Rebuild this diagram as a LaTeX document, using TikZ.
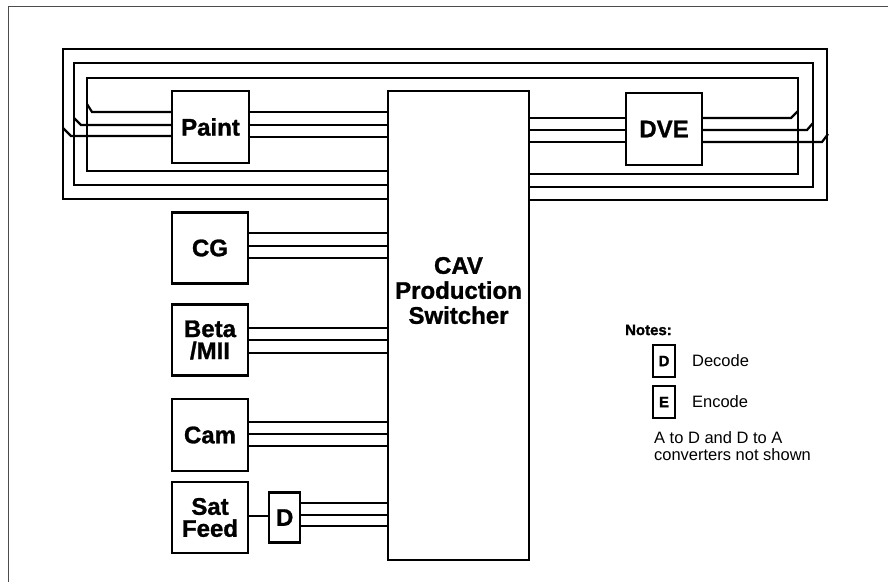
\documentclass[tikz,border=0pt]{standalone}
\usepackage{fontspec}
\setmainfont{Liberation Sans}
\newfontfamily\boxfont{Liberation Sans}[BoldFeatures={FakeBold=1.2}]
\usetikzlibrary{positioning}

\begin{document}
\begin{tikzpicture}[x=1pt, y=-1pt, line width=2.2pt, node distance=19pt,
  unit/.style={draw, inner sep=0pt, align=center, minimum width=76pt, minimum height=71pt,
    font=\boxfont\fontsize{24}{22}\selectfont\bfseries},
  switcher/.style={draw, inner sep=0pt, minimum width=141pt, minimum height=469pt},
  key/.style={draw, inner sep=0pt, minimum width=22pt, minimum height=32pt,
    font=\boxfont\fontsize{15}{15}\selectfont\bfseries},
  note/.style={inner sep=0pt, align=left, font=\fontsize{16.5}{17.5}\selectfont}]
\useasboundingbox (0,0) rectangle (888,582);
\draw[line width=1pt, black!70] (8,582) -- (8,6) -- (888,6);

% switcher and sources
\node[switcher] (sw) at (458.5,325.5) {};
\node[align=center, inner sep=0pt, font=\boxfont\fontsize{24}{25}\selectfont\bfseries] (swt)
  at ([yshift=35pt]sw.center) {CAV\\Production\\Switcher};
\node[unit, minimum width=77pt, minimum height=72pt] (paint) at (210.5,127) {Paint};
\node[unit, minimum height=72pt] (dve) at (664,129) {DVE};
\node[unit] (cg) at (210,248) {CG};
\node[unit] (beta) at (210,340) {Beta\\/MII};
\node[unit, minimum height=72pt] (cam) at (210,435) {Cam};
\node[unit] (sat) at (210,517.5) {Sat\\Feed};
\node[unit, minimum width=31pt, minimum height=50pt, right=of sat] (dec) {D};

% loops round the switcher
\coordinate (li) at (87,104);  \coordinate (ri) at (798,111);
\coordinate (lm) at (74,118);  \coordinate (rm) at (813,123);
\coordinate (lo) at (63,128);  \coordinate (ro) at (828,134);
\draw (sw.west |- 0,171) -| (87,78) -| (798,174) -- (sw.east |- 0,174);
\draw (sw.west |- 0,185) -| (74,63) -| (813,187) -- (sw.east |- 0,187);
\draw (sw.west |- 0,199) -| (63,49) -| (827,200) -- (sw.east |- 0,200);
\draw (paint.west |- 0,112) -- (92,112) -- (li);
\draw (paint.west |- 0,125) -- (81,125) -- (lm);
\draw (paint.west |- 0,136) -- (71,136) -- (lo);
\draw (dve.east |- 0,118) -- (791,118) -- (ri);
\draw (dve.east |- 0,130) -- (807,130) -- (rm);
\draw (dve.east |- 0,142) -- (822,142) -- (ro);

% signal lines
\foreach \r in {112,125,137} \draw (paint.east |- 0,\r) -- (sw.west |- 0,\r);
\foreach \r in {118,130,142} \draw (sw.east |- 0,\r) -- (dve.west |- 0,\r);
\foreach \r in {233,246,258} \draw (cg.east |- 0,\r) -- (sw.west |- 0,\r);
\foreach \r in {328,340,353} \draw (beta.east |- 0,\r) -- (sw.west |- 0,\r);
\foreach \r in {422,434,446} \draw (cam.east |- 0,\r) -- (sw.west |- 0,\r);
\foreach \r in {503,515,526} \draw (dec.east |- 0,\r) -- (sw.west |- 0,\r);
\draw (sat.east |- 0,516) -- (dec.west |- 0,516);

% notes
\node[anchor=west, inner sep=0pt, font=\boxfont\fontsize{15}{15}\selectfont\bfseries] (notes) at (624,330) {Notes:};
\node[key] (kd) at (664,361) {D};
\node[key] (ke) at (664,402) {E};
\node[note, anchor=west] (kdt) at (691,361) {Decode};
\node[note, anchor=west] (ket) at (691,402) {Encode};
\node[note, anchor=north west] (conv) at (653,430) {A to D and D to A\\converters not shown};
\end{tikzpicture}
\end{document}
